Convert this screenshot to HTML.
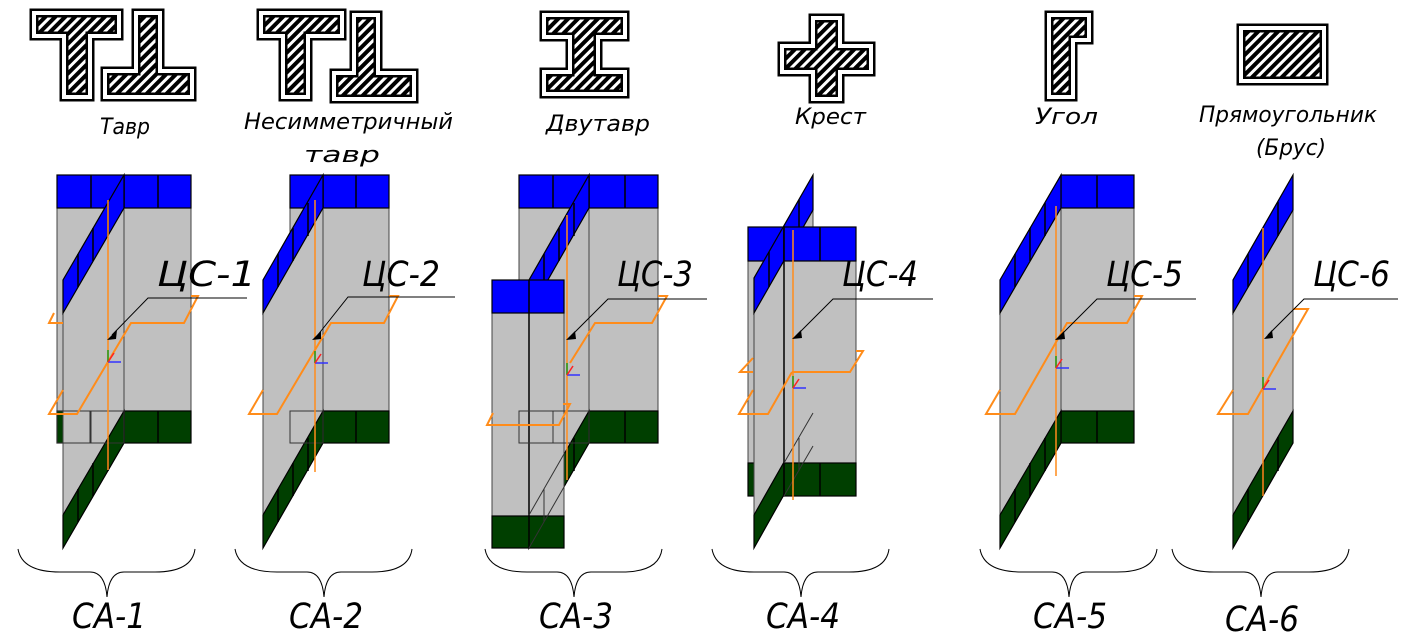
<!DOCTYPE html>
<html><head><meta charset="utf-8"><style>
html,body{margin:0;padding:0;background:#fff;}
svg{display:block;}
text{font-family:"DejaVu Sans","Liberation Sans",sans-serif;font-style:oblique;fill:#000;}
.g{fill:#c0c0c0;stroke:#444;stroke-width:1}
.b{fill:#0000ff;stroke:#000;stroke-width:1.2}
.d{fill:#003f00;stroke:#000;stroke-width:1.2}
.ln{stroke:#000;stroke-width:1.5}
.o{fill:none;stroke:#ff8c1a;stroke-width:2}
.ol{stroke:#ff8c1a;stroke-width:1.5}
.bx{fill:none;stroke:#333;stroke-width:1}
.br{fill:none;stroke:#000;stroke-width:1}
.ic1{fill:none;stroke:#000;stroke-width:9}
.ic2{fill:none;stroke:#fff;stroke-width:4}
.lead{fill:none;stroke:#000;stroke-width:1}
</style></head><body>
<svg width="1418" height="644" viewBox="0 0 1418 644" xmlns="http://www.w3.org/2000/svg">
<defs>
<pattern id="h" width="7" height="7" patternUnits="userSpaceOnUse" patternTransform="rotate(45)">
<rect width="7" height="7" fill="#fff"/><rect width="4" height="7" fill="#000"/>
</pattern>
<g id="ax"><line x1="0" y1="0" x2="0" y2="-12" stroke="#1a9a1a" stroke-width="1.5"/><line x1="0" y1="0" x2="13" y2="0" stroke="#3333ff" stroke-width="1.5"/><line x1="0" y1="0" x2="6" y2="-9" stroke="#ff2020" stroke-width="1.5"/></g>
</defs>

<!-- ICONS -->
<g>
<path d="M34,13 H119 V36 H90 V97 H64 V36 H34 Z" fill="url(#h)"/>
<path d="M34,13 H119 V36 H90 V97 H64 V36 H34 Z" class="ic1"/><path d="M34,13 H119 V36 H90 V97 H64 V36 H34 Z" class="ic2"/>
<path d="M136,13 H160 V71 H192 V97 H105 V71 H136 Z" fill="url(#h)"/>
<path d="M136,13 H160 V71 H192 V97 H105 V71 H136 Z" class="ic1"/><path d="M136,13 H160 V71 H192 V97 H105 V71 H136 Z" class="ic2"/>

<path d="M261,13 H342 V36 H308 V97 H283 V36 H261 Z" fill="url(#h)"/>
<path d="M261,13 H342 V36 H308 V97 H283 V36 H261 Z" class="ic1"/><path d="M261,13 H342 V36 H308 V97 H283 V36 H261 Z" class="ic2"/>
<path d="M354,15 H378 V73 H414 V99 H334 V73 H354 Z" fill="url(#h)"/>
<path d="M354,15 H378 V73 H414 V99 H334 V73 H354 Z" class="ic1"/><path d="M354,15 H378 V73 H414 V99 H334 V73 H354 Z" class="ic2"/>

<path d="M544,15 H625 V37 H598 V72 H625 V94 H544 V72 H570 V37 H544 Z" fill="url(#h)"/>
<path d="M544,15 H625 V37 H598 V72 H625 V94 H544 V72 H570 V37 H544 Z" class="ic1"/><path d="M544,15 H625 V37 H598 V72 H625 V94 H544 V72 H570 V37 H544 Z" class="ic2"/>

<path d="M813,18 H840 V46 H871 V72 H840 V99 H813 V72 H782 V46 H813 Z" fill="url(#h)"/>
<path d="M813,18 H840 V46 H871 V72 H840 V99 H813 V72 H782 V46 H813 Z" class="ic1"/><path d="M813,18 H840 V46 H871 V72 H840 V99 H813 V72 H782 V46 H813 Z" class="ic2"/>

<path d="M1049,15 H1089 V40 H1073 V97 H1049 Z" fill="url(#h)"/>
<path d="M1049,15 H1089 V40 H1073 V97 H1049 Z" class="ic1"/><path d="M1049,15 H1089 V40 H1073 V97 H1049 Z" class="ic2"/>

<path d="M1241,28 H1324 V81 H1241 Z" fill="url(#h)"/>
<path d="M1241,28 H1324 V81 H1241 Z" class="ic1"/><path d="M1241,28 H1324 V81 H1241 Z" class="ic2"/>
</g>

<!-- top labels -->
<g font-size="22">
<text x="100" y="134" textLength="50" lengthAdjust="spacingAndGlyphs">Тавр</text>
<text x="244" y="129" textLength="209" lengthAdjust="spacingAndGlyphs">Несимметричный</text>
<text x="304" y="162" textLength="76" lengthAdjust="spacingAndGlyphs">тавр</text>
<text x="546" y="131" textLength="104" lengthAdjust="spacingAndGlyphs">Двутавр</text>
<text x="795" y="124" textLength="71" lengthAdjust="spacingAndGlyphs">Крест</text>
<text x="1035" y="124" textLength="63" lengthAdjust="spacingAndGlyphs">Угол</text>
<text x="1199" y="122" textLength="178" lengthAdjust="spacingAndGlyphs">Прямоугольник</text>
<text x="1256" y="155" textLength="70" lengthAdjust="spacingAndGlyphs">(Брус)</text>
</g>

<!-- FIG 1 -->
<g>
<rect x="57" y="175" width="134" height="268" class="g"/>
<rect x="57" y="175" width="134" height="33" class="b"/>
<rect x="57" y="411" width="134" height="32" class="d"/>
<path d="M91,175V208M124,175V208M158,175V208M158,411V443M124,411V443" class="ln"/>
<polygon points="63,280 124,175 124,443 63,548" class="g"/>
<polygon points="63,280 124,175 124,208 63,313" class="b"/>
<polygon points="63,515 124,411 124,443 63,548" class="d"/>
<path d="M78,254V287M93,228V261M108,203V236M78,489V522M93,463V496M108,438V471" class="ln"/>
<rect x="57" y="411" width="33" height="32" class="bx"/><rect x="91" y="411" width="33" height="32" class="bx"/>
<line x1="108" y1="200" x2="108" y2="470" class="ol"/>
<path d="M63,390 L49,414 L77,414 L131,323 L184,323 L198,296 L191,296 M63,323 L49,323 L54,313" class="o"/>
<use href="#ax" x="108" y="362"/>
</g>

<!-- FIG 2 -->
<g>
<rect x="290" y="175" width="99" height="268" class="g"/>
<rect x="290" y="175" width="99" height="33" class="b"/>
<rect x="290" y="411" width="99" height="32" class="d"/>
<path d="M323,175V208M356,175V208M356,411V443" class="ln"/>
<polygon points="263,280 323,175 323,443 263,548" class="g"/>
<polygon points="263,280 323,175 323,208 263,313" class="b"/>
<polygon points="263,515 323,411 323,443 263,548" class="d"/>
<path d="M278,254V287M293,228V261M308,203V236M278,489V522M293,463V496M308,438V471" class="ln"/>
<rect x="290" y="411" width="33" height="32" class="bx"/>
<line x1="315" y1="200" x2="315" y2="472" class="ol"/>
<path d="M263,390 L249,414 L277,414 L331,323 L384,323 L398,296 L389,296" class="o"/>
<use href="#ax" x="315" y="363"/>
</g>

<!-- FIG 3 -->
<g>
<rect x="519" y="175" width="139" height="268" class="g"/>
<rect x="519" y="175" width="139" height="33" class="b"/>
<rect x="519" y="411" width="139" height="32" class="d"/>
<path d="M553,175V208M589,175V208M625,175V208M625,411V443" class="ln"/>
<polygon points="529,280 589,175 589,443 529,548" class="g"/>
<polygon points="529,280 589,175 589,208 529,313" class="b"/>
<polygon points="529,515 589,411 589,443 529,548" class="d"/>
<path d="M544,254V287M559,228V261M574,203V236M559,463V496M574,438V471" class="ln"/>
<rect x="492" y="280" width="72" height="268" class="g"/>
<rect x="492" y="280" width="72" height="33" class="b"/>
<rect x="492" y="516" width="72" height="32" class="d"/>
<path d="M529,280V548" class="ln" stroke-width="1"/>
<path d="M529,515 L564,454 M529,548 L564,487 M544,489V522" class="bx"/>
<rect x="519" y="411" width="34" height="32" class="bx"/><rect x="553" y="411" width="36" height="32" class="bx"/>
<line x1="567" y1="215" x2="567" y2="480" class="ol"/>
<path d="M493,413 L487,425 L559,425 L570,404 L563,404 M570,363 L595,323 L652,323 L667,296 L658,296" class="o"/>
<use href="#ax" x="567" y="375"/>
</g>

<!-- FIG 4 -->
<g>
<rect x="748" y="227" width="36" height="269" class="g"/>
<rect x="748" y="227" width="36" height="34" class="b"/>
<rect x="748" y="463" width="36" height="33" class="d"/>
<polygon points="754,278 813,175 813,443 754,548" class="g"/>
<polygon points="754,278 813,175 813,210 754,313" class="b"/>
<polygon points="754,515 813,411 813,443 754,548" class="d"/>
<path d="M769,252V287M784,226V261M799,200V235" class="ln"/>
<rect x="784" y="227" width="72" height="269" class="g"/>
<rect x="784" y="227" width="72" height="34" class="b"/>
<rect x="784" y="463" width="72" height="33" class="d"/>
<path d="M820,227V261M820,463V496M784,227V496" class="ln"/>
<path d="M784,463 L813,413 M784,496 L813,446 M799,438V471" class="bx"/>
<line x1="793" y1="230" x2="793" y2="500" class="ol"/>
<path d="M753,358 L740,372 L753,372 M792,372 L850,372 L863,351 L856,351 M753,390 L739,414 L768,414 L792,372" class="o"/>
<use href="#ax" x="793" y="388"/>
</g>

<!-- FIG 5 -->
<g>
<rect x="1061" y="175" width="73" height="268" class="g"/>
<rect x="1061" y="175" width="73" height="33" class="b"/>
<rect x="1061" y="411" width="73" height="32" class="d"/>
<path d="M1097,175V208M1097,411V443" class="ln"/>
<polygon points="1000,280 1061,175 1061,443 1000,548" class="g"/>
<polygon points="1000,280 1061,175 1061,208 1000,313" class="b"/>
<polygon points="1000,515 1061,411 1061,443 1000,548" class="d"/>
<path d="M1015,254V287M1030,228V261M1045,203V236M1015,489V522M1030,463V496M1045,438V471" class="ln"/>
<line x1="1056" y1="206" x2="1056" y2="476" class="ol"/>
<path d="M1000,390 L986,414 L1015,414 L1067,323 L1127,323 L1142,296 L1134,296" class="o"/>
<use href="#ax" x="1056" y="368"/>
</g>

<!-- FIG 6 -->
<g>
<polygon points="1233,280 1293,175 1293,443 1233,548" class="g"/>
<polygon points="1233,280 1293,175 1293,210 1233,313" class="b"/>
<polygon points="1233,515 1293,411 1293,443 1233,548" class="d"/>
<path d="M1248,254V287M1263,228V261M1278,202V236M1248,489V522M1263,463V496M1278,437V471" class="ln"/>
<line x1="1263" y1="228" x2="1263" y2="496" class="ol"/>
<path d="M1233,390 L1218,414 L1248,414 L1308,309 L1293,309" class="o"/>
<use href="#ax" x="1263" y="389"/>
</g>

<!-- CS labels and leaders -->
<g font-size="35">
<text x="157" y="286" textLength="99" lengthAdjust="spacingAndGlyphs">ЦС-1</text>
<text x="362" y="286" textLength="78" lengthAdjust="spacingAndGlyphs">ЦС-2</text>
<text x="617" y="286" textLength="76" lengthAdjust="spacingAndGlyphs">ЦС-3</text>
<text x="842" y="286" textLength="76" lengthAdjust="spacingAndGlyphs">ЦС-4</text>
<text x="1106" y="286" textLength="77" lengthAdjust="spacingAndGlyphs">ЦС-5</text>
<text x="1313" y="286" textLength="77" lengthAdjust="spacingAndGlyphs">ЦС-6</text>
</g>
<g>
<path d="M247,298 H148 L112,335" class="lead"/><polygon points="107,340 117,330 116,339" fill="#000"/>
<path d="M455,297 H348 L317,336" class="lead"/><polygon points="312,340 321,331 321,339" fill="#000"/>
<path d="M707,299 H608 L571,336" class="lead"/><polygon points="566,340 575,331 576,339" fill="#000"/>
<path d="M933,299 H833 L797,335" class="lead"/><polygon points="792,339 801,330 802,338" fill="#000"/>
<path d="M1196,299 H1097 L1060,336" class="lead"/><polygon points="1055,340 1064,331 1065,339" fill="#000"/>
<path d="M1398,299 H1304 L1268,335" class="lead"/><polygon points="1264,339 1272,330 1273,338" fill="#000"/>
</g>

<!-- braces -->
<g>
<path d="M18,549 Q22,572 60,572 H90 Q105,572 107,597 Q109,572 124,572 H155 Q192,572 195,549" class="br"/>
<path d="M235,549 Q239,572 277,572 H307 Q322,572 324,597 Q326,572 341,572 H372 Q409,572 412,549" class="br"/>
<path d="M485,549 Q489,572 527,572 H557 Q572,572 574,597 Q576,572 591,572 H622 Q659,572 662,549" class="br"/>
<path d="M712,549 Q716,572 754,572 H784 Q799,572 801,597 Q803,572 818,572 H849 Q886,572 889,549" class="br"/>
<path d="M980,549 Q984,572 1022,572 H1052 Q1067,572 1069,597 Q1071,572 1086,572 H1117 Q1154,572 1157,549" class="br"/>
<path d="M1172,549 Q1176,572 1214,572 H1244 Q1259,572 1261,597 Q1263,572 1278,572 H1309 Q1346,572 1349,549" class="br"/>
</g>
<g font-size="35">
<text x="72" y="628" textLength="74" lengthAdjust="spacingAndGlyphs">СА-1</text>
<text x="289" y="628" textLength="74" lengthAdjust="spacingAndGlyphs">СА-2</text>
<text x="539" y="628" textLength="74" lengthAdjust="spacingAndGlyphs">СА-3</text>
<text x="766" y="628" textLength="74" lengthAdjust="spacingAndGlyphs">СА-4</text>
<text x="1033" y="628" textLength="74" lengthAdjust="spacingAndGlyphs">СА-5</text>
<text x="1225" y="631" textLength="74" lengthAdjust="spacingAndGlyphs">СА-6</text>
</g>
</svg>
</body></html>
